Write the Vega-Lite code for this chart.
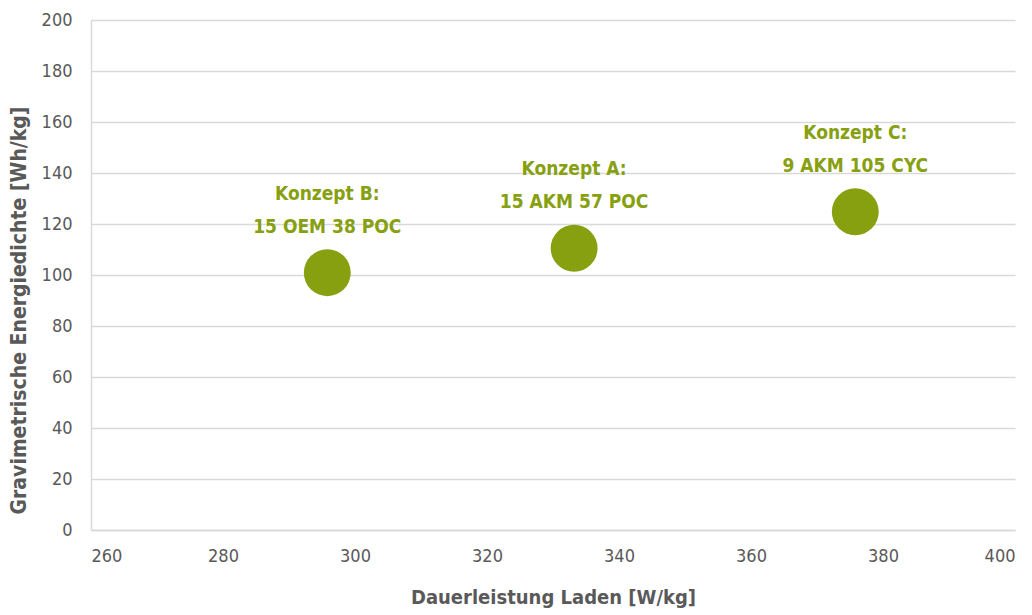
{
  "$schema": "https://vega.github.io/schema/vega-lite/v6.json",
  "width": 924,
  "height": 510,
  "autosize": {"type": "none"},
  "padding": {"left": 91, "top": 20, "right": 17, "bottom": 85},
  "background": "white",
  "config": {
    "view": {"stroke": null},
    "font": "DejaVu Sans Condensed, Liberation Sans, sans-serif"
  },
  "data": {
    "values": [
      {"konzept": "Konzept B:", "aufbau": "15 OEM 38 POC", "leistung": 295.8, "energie": 100.9},
      {"konzept": "Konzept A:", "aufbau": "15 AKM 57 POC", "leistung": 333.2, "energie": 110.5},
      {"konzept": "Konzept C:", "aufbau": "9 AKM 105 CYC", "leistung": 375.8, "energie": 124.8}
    ]
  },
  "encoding": {
    "x": {
      "field": "leistung",
      "type": "quantitative",
      "scale": {"domain": [260, 400], "nice": false, "zero": false},
      "axis": {
        "title": "Dauerleistung Laden [W/kg]",
        "values": [260, 280, 300, 320, 340, 360, 380, 400],
        "grid": false,
        "ticks": false,
        "domainColor": "#d9d9d9",
        "domainWidth": 1.5,
        "labelFont": "DejaVu Sans Condensed, sans-serif",
        "labelFontSize": 18,
        "labelColor": "#595959",
        "labelPadding": 17,
        "titleFont": "DejaVu Sans Condensed, sans-serif",
        "titleFontSize": 20,
        "titleFontWeight": "bold",
        "titleColor": "#595959",
        "titlePadding": 22
      }
    },
    "y": {
      "field": "energie",
      "type": "quantitative",
      "scale": {"domain": [0, 200], "nice": false},
      "axis": {
        "title": "Gravimetrische Energiedichte [Wh/kg]",
        "values": [0, 20, 40, 60, 80, 100, 120, 140, 160, 180, 200],
        "grid": true,
        "gridColor": "#d9d9d9",
        "gridWidth": 1.5,
        "ticks": false,
        "domainColor": "#d9d9d9",
        "domainWidth": 1.5,
        "labelFont": "DejaVu Sans Condensed, sans-serif",
        "labelFontSize": 18,
        "labelColor": "#595959",
        "labelPadding": 19,
        "titleFont": "DejaVu Sans Condensed, sans-serif",
        "titleFontSize": 21,
        "titleFontWeight": "bold",
        "titleColor": "#595959",
        "titlePadding": 12,
        "titleY": 290
      }
    }
  },
  "layer": [
    {
      "mark": {"type": "point", "filled": true, "shape": "circle", "size": 2200, "color": "#87a010", "opacity": 1}
    },
    {
      "mark": {
        "type": "text",
        "font": "DejaVu Sans Condensed, sans-serif",
        "fontSize": 19,
        "fontWeight": "bold",
        "color": "#87a010",
        "baseline": "bottom",
        "align": "center",
        "dy": -69,
        "lineHeight": 33
      },
      "encoding": {
        "text": {"field": "lines"}
      },
      "transform": [
        {"calculate": "[datum.konzept, datum.aufbau]", "as": "lines"}
      ]
    }
  ]
}
